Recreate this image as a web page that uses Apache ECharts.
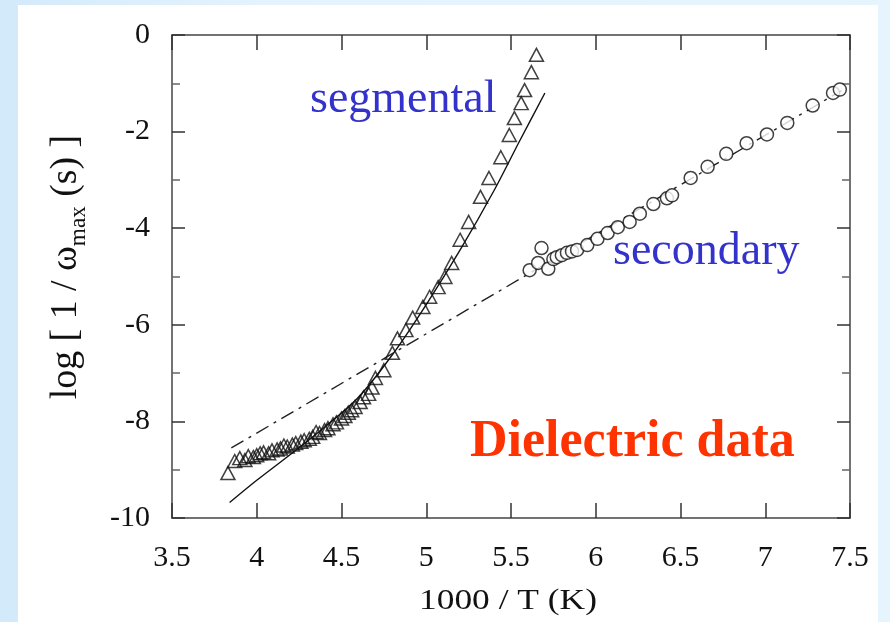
<!DOCTYPE html>
<html>
<head>
<meta charset="utf-8">
<script src="https://cdn.jsdelivr.net/npm/echarts@6/dist/echarts.min.js"></script>
<style>
  html, body { margin: 0; padding: 0; }
  body {
    width: 890px; height: 622px; overflow: hidden; position: relative;
    background: linear-gradient(to right, #d3eafb 0%, #e4f3fd 30%, #e6f4fd 100%);
  }
  #panel { position: absolute; left: 18px; top: 5px; width: 860px; height: 617px; background: #fff; }
  #main { position: absolute; left: 0; top: 0; width: 890px; height: 622px; }
</style>
</head>
<body>
<div id="panel"></div>
<div id="main"></div>
<script>
// segmental relaxation (triangles)
var segX = [3.83, 3.87, 3.90, 3.93, 3.95, 3.98, 4.00, 4.02, 4.04, 4.07, 4.09, 4.12, 4.14, 4.16, 4.18, 4.21, 4.23, 4.26, 4.28, 4.31, 4.33, 4.35, 4.37, 4.40, 4.42, 4.45, 4.47, 4.50, 4.52, 4.54, 4.56, 4.58, 4.61, 4.63, 4.66, 4.68, 4.70, 4.75, 4.80, 4.83, 4.88, 4.92, 4.98, 5.02, 5.07, 5.11, 5.15, 5.20, 5.25, 5.32, 5.37, 5.44, 5.49, 5.52, 5.56, 5.58, 5.62, 5.65];
var segY = [-9.07, -8.82, -8.76, -8.80, -8.72, -8.74, -8.70, -8.66, -8.64, -8.66, -8.60, -8.58, -8.56, -8.50, -8.52, -8.48, -8.45, -8.42, -8.39, -8.36, -8.32, -8.22, -8.24, -8.18, -8.14, -8.06, -8.02, -7.94, -7.89, -7.82, -7.77, -7.70, -7.60, -7.50, -7.43, -7.30, -7.10, -6.94, -6.58, -6.28, -6.11, -5.85, -5.63, -5.42, -5.22, -5.01, -4.72, -4.24, -3.87, -3.35, -2.96, -2.53, -2.07, -1.72, -1.41, -1.14, -0.77, -0.41];

// secondary relaxation (circles)
var secX = [5.61, 5.66, 5.68, 5.72, 5.75, 5.77, 5.80, 5.83, 5.86, 5.89, 5.95, 6.01, 6.07, 6.13, 6.20, 6.26, 6.34, 6.42, 6.45, 6.56, 6.66, 6.77, 6.89, 7.01, 7.13, 7.28, 7.40, 7.44];
var secY = [-4.87, -4.72, -4.41, -4.84, -4.64, -4.60, -4.56, -4.51, -4.48, -4.45, -4.35, -4.22, -4.10, -3.98, -3.87, -3.70, -3.50, -3.38, -3.32, -2.96, -2.73, -2.46, -2.24, -2.06, -1.82, -1.46, -1.20, -1.13];

// solid fit curve through the segmental data
var fitX = [3.84, 4.00, 4.20, 4.40, 4.60, 4.80, 5.00, 5.20, 5.40, 5.55, 5.70];
var fitY = [-9.68, -9.22, -8.68, -8.12, -7.50, -6.62, -5.58, -4.45, -3.22, -2.20, -1.20];

// dash-dot Arrhenius line
var arrX = [3.85, 7.45];
var arrY = [-8.55, -1.15];

var xTicks = [3.5, 4, 4.5, 5, 5.5, 6, 6.5, 7, 7.5];
var yTicks = [-10, -8, -6, -4, -2, 0];

function pairs(xs, ys) {
  return xs.map(function (x, i) { return [x, ys[i]]; });
}

var serif = 'Liberation Serif';
var axisColor = '#444';

function xAxisOpt(pos, labels) {
  return {
    type: 'value', position: pos,
    min: xTicks[0], max: xTicks[xTicks.length - 1], interval: 0.5,
    axisLine: { show: true, onZero: false, lineStyle: { color: axisColor, width: 1.5 } },
    axisTick: { show: true, inside: true, length: 15, lineStyle: { color: '#333', width: 1.5 } },
    axisLabel: { show: labels, margin: 25, color: '#111', fontFamily: serif, fontSize: 30 },
    splitLine: { show: false }
  };
}
function yAxisOpt(pos, labels) {
  return {
    type: 'value', position: pos,
    min: yTicks[0], max: yTicks[yTicks.length - 1], interval: 2,
    axisLine: { show: true, onZero: false, lineStyle: { color: axisColor, width: 1.5 } },
    axisTick: { show: true, inside: true, length: 13, lineStyle: { color: '#333', width: 1.5 } },
    minorTick: { show: true, splitNumber: 2, length: 8, lineStyle: { color: '#666', width: 1.5 } },
    axisLabel: { show: labels, margin: 22, color: '#111', fontFamily: serif, fontSize: 30 },
    splitLine: { show: false }
  };
}

var myChart = echarts.init(document.getElementById('main'));
myChart.setOption({
  backgroundColor: 'transparent',
  animation: false,
  grid: { left: 172, right: 40, top: 35, bottom: 104 },
  xAxis: [xAxisOpt('bottom', true), xAxisOpt('top', false)],
  yAxis: [yAxisOpt('left', true), yAxisOpt('right', false)],
  graphic: [
    {
      type: 'text', x: 508, y: 601, scaleX: 1.18,
      style: { text: '1000 / T (K)', font: '30px "Liberation Serif"', fill: '#111', align: 'center', verticalAlign: 'middle' }
    },
    {
      type: 'text', x: 66, y: 267, rotation: Math.PI / 2, scaleX: 1.22, scaleY: 1.2,
      style: {
        text: '{a|log [ 1 / ω}{s|max}{a| (s) ]}',
        align: 'center', verticalAlign: 'middle', fill: '#111',
        rich: {
          a: { fontFamily: serif, fontSize: 31, lineHeight: 40, fill: '#111' },
          s: { fontFamily: serif, fontSize: 19, lineHeight: 40, verticalAlign: 'bottom', padding: [22, 0, 0, 0], fill: '#111' }
        }
      }
    },
    {
      type: 'text', x: 310, y: 100,
      style: { text: 'segmental', font: '46px "Liberation Serif"', fill: '#3333cc', align: 'left', verticalAlign: 'middle' }
    },
    {
      type: 'text', x: 613, y: 252,
      style: { text: 'secondary', font: '46px "Liberation Serif"', fill: '#3333cc', align: 'left', verticalAlign: 'middle' }
    },
    {
      type: 'text', x: 470, y: 443,
      style: { text: 'Dielectric data', font: 'bold 52px "Liberation Serif"', fill: '#ff3300', align: 'left', verticalAlign: 'middle' }
    }
  ],
  series: [
    {
      name: 'fit', type: 'line', data: pairs(fitX, fitY), smooth: 0.3,
      showSymbol: false, lineStyle: { color: '#111', width: 1.4 }, z: 2
    },
    {
      name: 'arrhenius', type: 'line', data: pairs(arrX, arrY),
      showSymbol: false, lineStyle: { color: '#222', width: 1.4, type: [14, 6, 3, 6] }, z: 2
    },
    {
      name: 'segmental', type: 'scatter', data: pairs(segX, segY),
      symbol: 'triangle', symbolSize: [14, 13],
      itemStyle: { color: 'rgba(255,255,255,0)', borderColor: '#111', borderWidth: 1.5 }, z: 3
    },
    {
      name: 'secondary', type: 'scatter', data: pairs(secX, secY),
      symbol: 'circle', symbolSize: 13,
      itemStyle: { color: '#fff', borderColor: '#111', borderWidth: 1.5 }, z: 3
    }
  ]
});
</script>
</body>
</html>
